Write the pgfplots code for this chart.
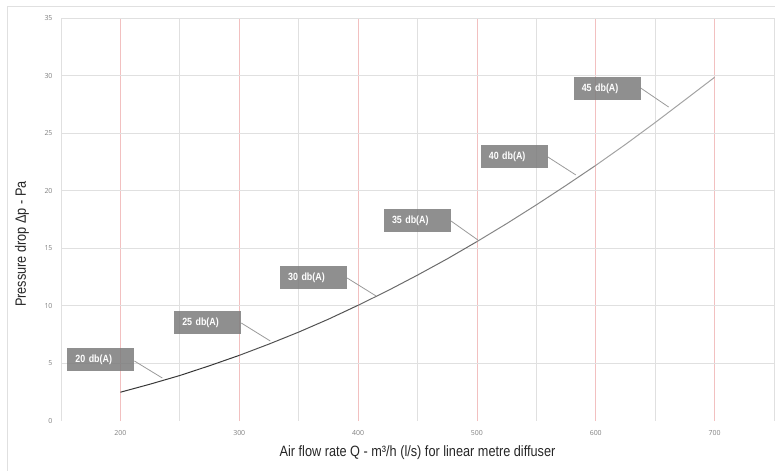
\documentclass[border=0pt]{standalone}
\usepackage{pgfplots}
\pgfplotsset{compat=1.18}
\usepackage{fontspec}
\setmainfont{Liberation Sans}[FakeStretch=0.85]
\newfontfamily\tickfont{Open Sans}
\definecolor{gridgray}{HTML}{E0E0E0}
\definecolor{gridred}{HTML}{F2C0C0}
\definecolor{boxgray}{HTML}{7F7F7F}
\definecolor{leader}{HTML}{9A9A9A}
\definecolor{ticktext}{HTML}{808080}
\begin{document}
\begin{tikzpicture}
\begin{axis}[
  scale only axis, width=713bp, height=403bp,
  xmin=150, xmax=750, ymin=0, ymax=35,
  axis line style={draw=none},
  major tick length=0pt, minor tick length=0pt,
  xtick={200,300,...,700},
  minor xtick={150,250,...,750},
  ytick={5,10,...,35},
  extra y ticks={0},
  extra y tick style={grid=none},
  xmajorgrids, xminorgrids, ymajorgrids,
  major x grid style={gridred, line width=0.8bp},
  minor x grid style={gridgray, line width=0.8bp},
  major y grid style={gridgray, line width=0.8bp},
  /pgf/number format/assume math mode=true,
  tick label style={font=\tickfont\fontsize{7}{8}\selectfont, text=ticktext},
  yticklabel style={xshift=-5bp},
  xticklabel style={yshift=-6bp},
  xlabel={Air flow rate Q - m³/h (l/s) for linear metre diffuser},
  ylabel={Pressure drop Δp - Pa},
  label style={font=\fontsize{15}{17}\selectfont, text=black!85},
  xlabel style={at={(axis description cs:0.5,0)}, anchor=base, yshift=-35bp},
  ylabel style={at={(axis description cs:0,0.439)}, anchor=center, yshift=39bp},
  clip=false,
]
\addplot[no marks, line width=1bp, color=black!78] coordinates {
  (200,2.50) (225,3.20) (250,3.95) (275,4.80) (300,5.70)};
\addplot[no marks, line width=1bp, color=black!68] coordinates {
  (300,5.70) (325,6.68) (350,7.72) (375,8.84) (400,10.05)};
\addplot[no marks, line width=1bp, color=black!58] coordinates {
  (400,10.05) (425,11.32) (450,12.67) (475,14.08) (500,15.58)};
\addplot[no marks, line width=1bp, color=black!47] coordinates {
  (500,15.58) (525,17.14) (550,18.77) (575,20.46) (600,22.20)};
\addplot[no marks, line width=1bp, color=black!36] coordinates {
  (600,22.20) (625,24.02) (650,25.92) (675,27.88) (700,29.85)};

% leader lines
\draw[leader, line width=0.8bp] (axis cs:211.8,5.21) -- (axis cs:235.3,3.73);
\draw[leader, line width=0.8bp] (axis cs:301.7,8.51) -- (axis cs:326.1,6.95);
\draw[leader, line width=0.8bp] (axis cs:390.8,12.42) -- (axis cs:415.1,10.86);
\draw[leader, line width=0.8bp] (axis cs:478.2,17.37) -- (axis cs:500.8,15.72);
\draw[leader, line width=0.8bp] (axis cs:559.7,22.93) -- (axis cs:583.2,21.37);
\draw[leader, line width=0.8bp] (axis cs:637.8,28.92) -- (axis cs:661.3,27.27);

% label boxes
\tikzset{dbbox/.style={fill=boxgray, fill opacity=0.88, text opacity=1, text=white,
  font=\bfseries\fontsize{10.5}{11}\selectfont, minimum width=67bp, minimum height=23bp,
  text width=51bp, inner xsep=8bp, inner ysep=0pt, align=left, anchor=center}}
\node[dbbox] at (axis cs:183.6,5.34) {20 db(A)};
\node[dbbox] at (axis cs:273.5,8.55) {25 db(A)};
\node[dbbox] at (axis cs:362.6,12.46) {30 db(A)};
\node[dbbox] at (axis cs:450.0,17.41) {35 db(A)};
\node[dbbox] at (axis cs:531.5,22.93) {40 db(A)};
\node[dbbox] at (axis cs:609.7,28.88) {45 db(A)};
\end{axis}
\pgfresetboundingbox
\useasboundingbox (-61bp,-50bp) rectangle (714bp,421bp);
\draw[gridgray, line width=0.8bp] (-54bp,-50bp) -- (-54bp,415bp) -- (714bp,415bp);
\end{tikzpicture}
\end{document}
